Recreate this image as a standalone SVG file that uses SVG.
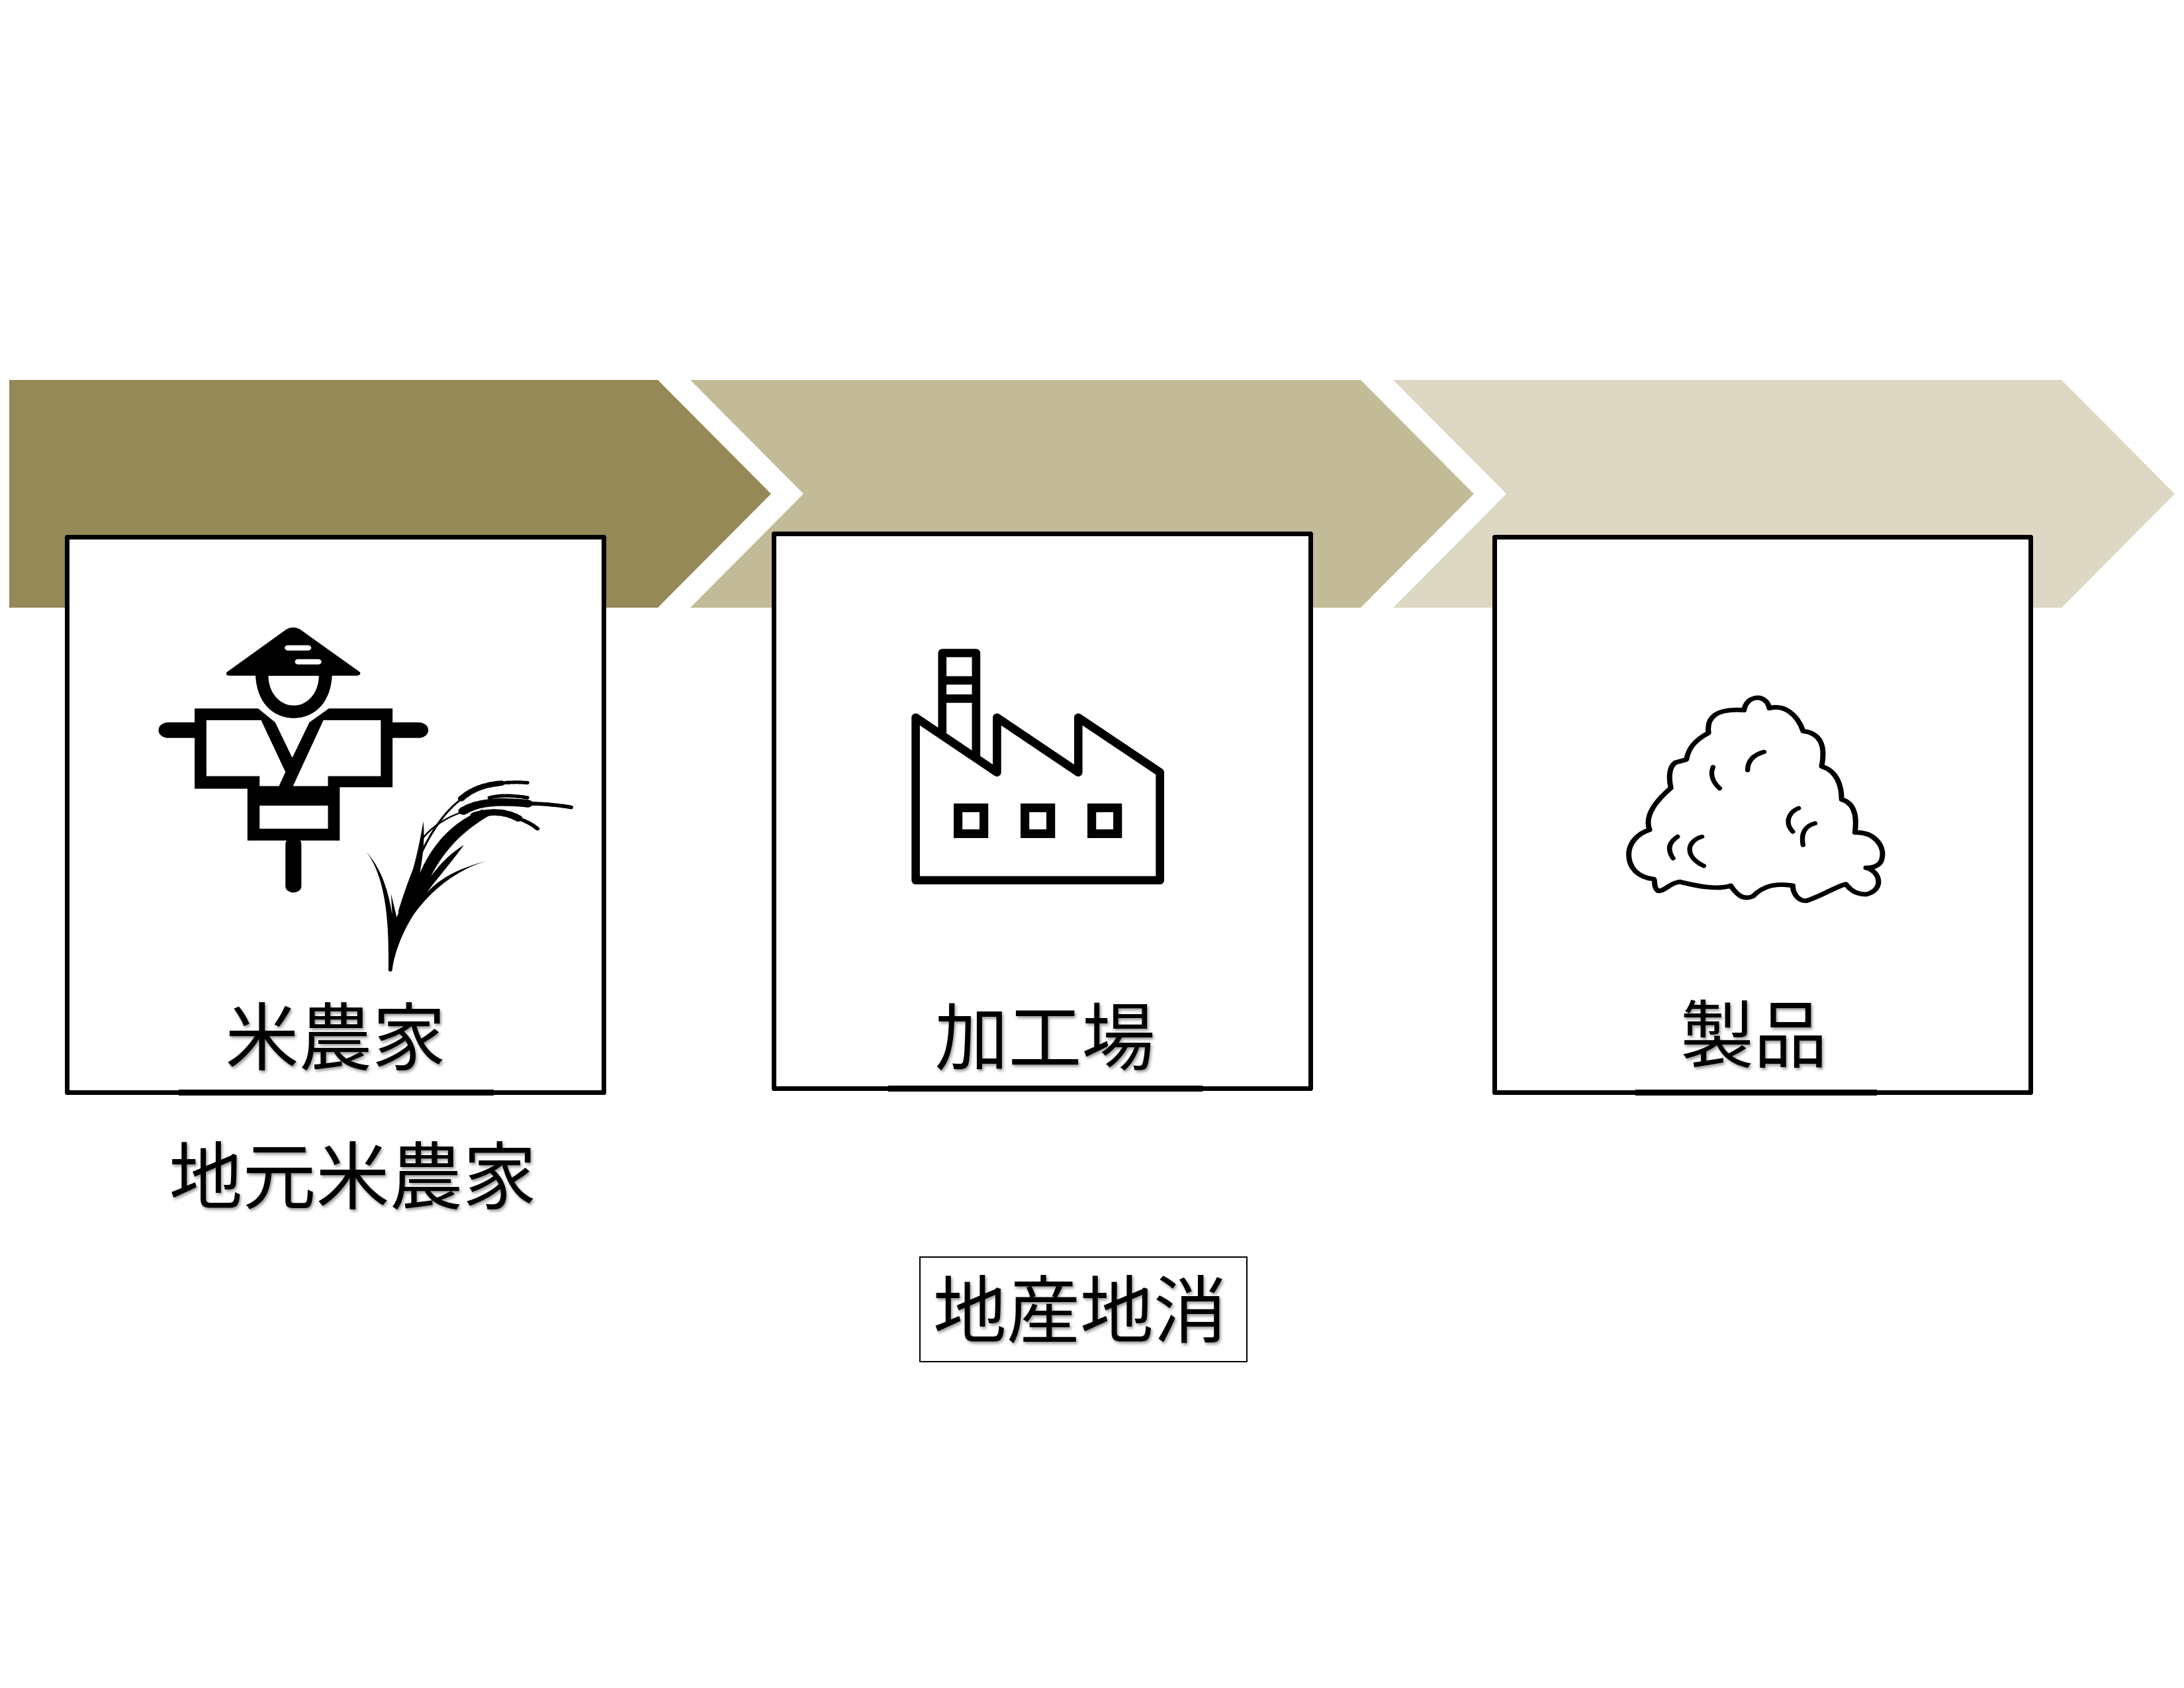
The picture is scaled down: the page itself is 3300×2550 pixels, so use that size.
<svg xmlns="http://www.w3.org/2000/svg" width="3300" height="2550" viewBox="0 0 3300 2550">
<style>
.lbl{font-family:"Noto Sans CJK JP","Noto Sans CJK SC",sans-serif;font-size:111px;fill:#000;text-anchor:middle;filter:url(#sh)}
.box{fill:#fff;stroke:#000;stroke-width:7;stroke-linejoin:round}
.ink{fill:#000}
.wht{fill:#fff}
.ln{fill:none;stroke:#000;stroke-linecap:round}
</style>
<defs>
<filter id="sh" x="-10%" y="-10%" width="120%" height="120%"><feDropShadow dx="2" dy="3" stdDeviation="2" flood-color="#000" flood-opacity="0.4"/></filter>
</defs>
<rect width="3300" height="2550" fill="#fff"/>
<g id="chevrons">
<polygon id="chevron1" points="14,574 994,574 1165,746 994,918 14,918" fill="#948957"/>
<polygon id="chevron2" points="1043,574 2056,574 2227,746 2056,918 1043,918 1214,746" fill="#C3BB97"/>
<polygon id="chevron3" points="2105,574 3115,574 3286,746 3115,918 2105,918 2276,746" fill="#DCD8C3"/>
</g>
<g id="node-farmer">
<rect class="box" x="101.5" y="811.5" width="811" height="839"/>
<rect class="ink" x="270" y="1646" width="476" height="9"/>
<g transform="translate(80,801) scale(0.574,0.4464)">
<rect class="ink" x="278" y="650" width="130" height="53" rx="26"/>
<rect class="ink" x="860" y="650" width="128" height="53" rx="26"/>
<path class="ink" d="M373,603H894V870H755V1050H512V875H373Z"/>
<path class="wht" d="M404,643H548L612,818L595,866H544V832H404Z"/>
<path class="wht" d="M863,643H712L632,866H724V832H863Z"/>
<path class="wht" d="M537,600L585,650L630,770L675,650L730,600Z"/>
<rect class="wht" x="544" y="932" width="180" height="78"/>
<rect class="ink" x="612" y="1040" width="42" height="186" rx="21"/>
<path class="ink" fill-rule="evenodd" d="M533,480H735C735,580 690,636 634,636C578,636 533,580 533,480ZM567,492H700C700,550 670,593 634,593C598,593 567,550 567,492Z"/>
<path class="ink" d="M615,335Q632,322 650,335L808,480Q812,492 800,492H465Q453,492 458,480Z"/>
<rect class="wht" x="610" y="389" width="70" height="18" rx="9"/>
<rect class="wht" x="637" y="436" width="70" height="18" rx="9"/>
<path class="ink" d="M883,1490C885,1350 880,1180 825,1088C860,1140 880,1200 893,1300L890,1230L905,1310C940,1200 960,1100 975,985C980,1060 972,1110 966,1160C1000,1060 1050,990 1130,945L1150,965C1075,1020 1030,1085 995,1170C1025,1120 1050,1090 1082,1065C1045,1130 1010,1180 985,1225C1025,1170 1080,1140 1140,1120C1060,1150 995,1220 950,1300C925,1350 900,1420 893,1490Q888,1497 883,1490Z"/>
<path class="ln" stroke-width="6" d="M912,1290C950,1130 1000,980 1075,910"/>
<path class="ln" stroke-width="5" d="M975,1040C1000,1000 1040,970 1075,955"/>
<path class="ln" stroke-width="18" stroke-dasharray="11 6" d="M1075,908C1105,875 1135,862 1180,856"/>
<path class="ln" stroke-width="12" stroke-dasharray="8 7" d="M1180,856C1205,852 1230,852 1252,855"/>
<path class="ln" stroke-width="26" stroke-dasharray="10 6" d="M1080,950C1120,920 1170,915 1250,925"/>
<path class="ln" stroke-width="13" stroke-dasharray="9 6" d="M1250,925C1290,925 1330,930 1365,938"/>
<path class="ln" stroke-width="22" stroke-dasharray="9 6" d="M1110,965C1150,950 1190,950 1225,975"/>
<path class="ln" stroke-width="12" stroke-dasharray="8 6" d="M1225,975C1245,985 1262,995 1275,1010"/>
<path class="ln" stroke-width="12" stroke-dasharray="8 6" d="M1150,905C1180,895 1215,898 1248,905"/>
</g>
<text class="lbl" x="507" y="1608">米農家</text>
</g>
<g id="node-factory">
<rect class="box" x="1169.5" y="806.5" width="811" height="838"/>
<rect class="ink" x="1342" y="1640" width="475" height="9"/>
<g transform="translate(1150,781) scale(0.574)">
<path fill="none" stroke="#000" stroke-width="22" stroke-linejoin="round" d="M477,570V358H566V640M477,430H566M477,478H566"/>
<path fill="none" stroke="#000" stroke-width="22" stroke-linejoin="round" d="M407,528L621,672V528L835,672V528L1050,672V956H407Z"/>
<rect fill="none" stroke="#000" stroke-width="23" x="518.5" y="765.5" width="68" height="68"/>
<rect fill="none" stroke="#000" stroke-width="23" x="694.5" y="765.5" width="68" height="68"/>
<rect fill="none" stroke="#000" stroke-width="23" x="870.5" y="765.5" width="68" height="68"/>
</g>
<text class="lbl" x="1579" y="1608">加工場</text>
</g>
<g id="node-product">
<rect class="box" x="2258.5" y="811.5" width="810" height="839"/>
<rect class="ink" x="2471" y="1646" width="365" height="9"/>
<g transform="translate(2250,780) scale(0.67,0.574)">
<path class="ln" stroke-width="12" stroke-linejoin="round" d="M575,510C580,470 625,465 632,505C665,495 695,520 708,565C745,570 760,600 750,658C785,670 795,710 795,745C825,755 830,790 825,832C870,830 895,870 885,905C880,920 865,925 850,925C885,935 890,985 850,995C830,995 815,985 805,968C780,975 750,1000 715,1012C695,1012 685,990 685,972C650,965 620,970 595,1000C570,1012 555,990 545,972C510,985 460,970 430,962C405,965 395,990 380,985C370,975 375,960 372,955C335,950 315,925 315,890C315,860 335,835 362,825C350,790 375,750 410,715C405,690 405,660 420,648L445,640C450,605 470,585 495,570C490,530 510,505 575,510Z"/>
<path class="ln" stroke-width="11" d="M620,620C595,628 583,645 583,668M505,660C498,680 505,700 520,716M698,768C672,780 668,810 685,830M735,808C712,815 703,835 708,865M425,843C403,860 403,880 415,900M480,843C445,855 440,895 484,920"/>
</g>
<text class="lbl" x="2650" y="1604">製品</text>
</g>
<g id="node-local-farmer">
<text class="lbl" x="533" y="1818">地元米農家</text>
</g>
<g id="node-chisan-chisho">
<rect x="1390" y="1899" width="494" height="158" fill="#fff" stroke="#000" stroke-width="2"/>
<text class="lbl" x="1632" y="2020">地産地消</text>
</g>
</svg>
